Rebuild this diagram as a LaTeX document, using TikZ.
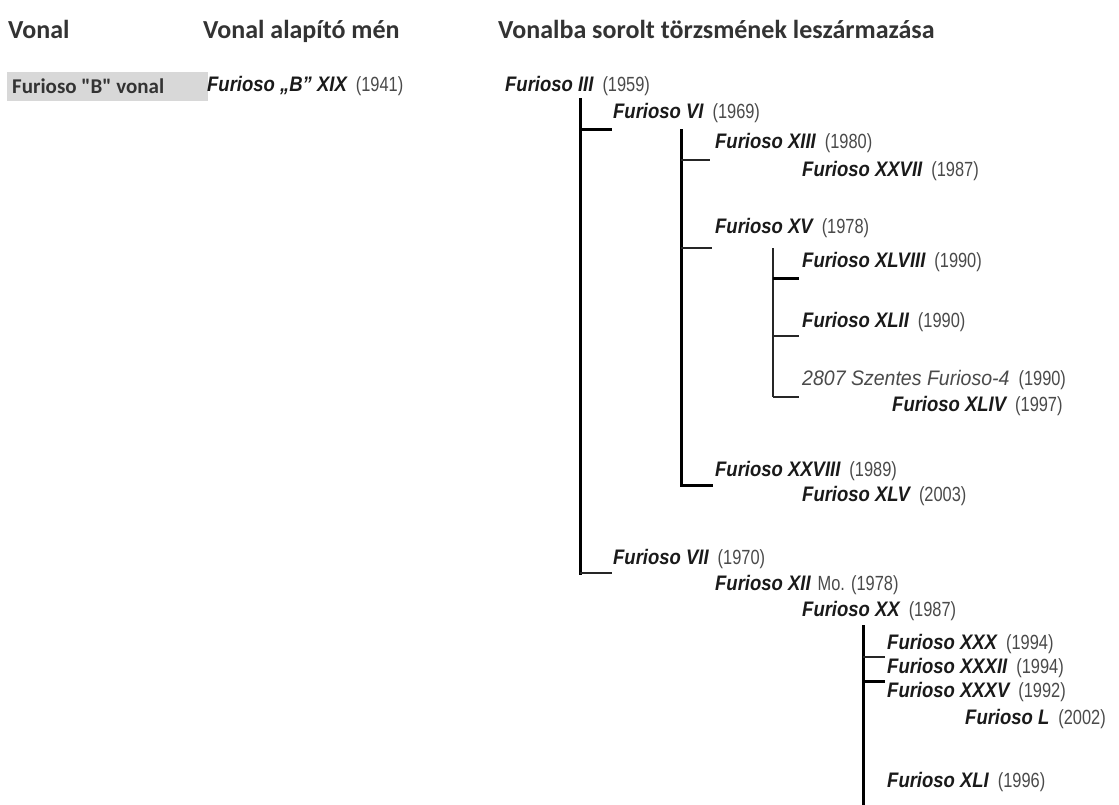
\documentclass[tikz,border=0pt]{standalone}
\usepackage{fontspec}
\setmainfont{Liberation Sans}[FakeStretch=0.88]
\newfontfamily\szfont{Liberation Sans}[FakeStretch=0.93]
\newfontfamily\yrfont{Liberation Sans}[FakeStretch=0.8]
\newfontfamily\carl{Carlito}
\definecolor{hdrc}{HTML}{333333}
\definecolor{namec}{HTML}{1A1A1A}
\definecolor{yearc}{HTML}{4A4A4A}
\definecolor{boxc}{HTML}{D8D8D8}
\newcommand\yr[1]{{\yrfont\color{yearc}\fontsize{20.5}{22}\selectfont #1}}
\newcommand\hn[2]{{\color{namec}\bfseries\itshape #1}\hspace{9pt}\yr{(#2)}}
\begin{document}
\begin{tikzpicture}[x=1pt,y=-1pt,
  hdr/.style={anchor=base west,inner sep=0pt,text=hdrc,font=\carl\bfseries\fontsize{26}{30}\selectfont},
  lbl/.style={anchor=base west,inner sep=0pt,text=hdrc,font=\carl\bfseries\fontsize{21}{24}\selectfont},
  hn/.style={anchor=west,inner sep=0pt,font=\fontsize{21}{23}\selectfont},
  thickl/.style={line width=3pt,color=black},
  thinl/.style={line width=1.4pt,color=black!85}]
\useasboundingbox (0,0) rectangle (1119,805);
\fill[white] (0,0) rectangle (1119,805);
% headers
\node[hdr] (h1) at (8,39) {Vonal};
\node[hdr] (h2) at (203,39) {Vonal alapító mén};
\node[hdr] (h3) at (498,39) {Vonalba sorolt törzsmének leszármazása};
% row
\fill[boxc] (7,72) rectangle (208,101);
\node[lbl] (vonal) at (12,94) {Furioso "B" vonal};
\node[hn] (fb) at (207,86) {\hn{Furioso „B” XIX}{1941}};
% tree texts
\node[hn] (n3) at (505,86) {\hn{Furioso III}{1959}};
\node[hn] (n6) at (613,113) {\hn{Furioso VI}{1969}};
\node[hn] (n13) at (715,143) {\hn{Furioso XIII}{1980}};
\node[hn] (n27) at (802,171) {\hn{Furioso XXVII}{1987}};
\node[hn] (n15) at (715,228) {\hn{Furioso XV}{1978}};
\node[hn] (n48) at (802,262) {\hn{Furioso XLVIII}{1990}};
\node[hn] (n42) at (802,322) {\hn{Furioso XLII}{1990}};
\node[hn] (sz) at (802,380) {{\szfont\color{yearc}\itshape 2807 Szentes Furioso-4}\hspace{9pt}\yr{(1990)}};
\node[hn] (n44) at (892,406) {\hn{Furioso XLIV}{1997}};
\node[hn] (n28) at (715,471) {\hn{Furioso XXVIII}{1989}};
\node[hn] (n45) at (802,496) {\hn{Furioso XLV}{2003}};
\node[hn] (n7) at (613,559) {\hn{Furioso VII}{1970}};
\node[hn] (n12) at (715,585) {{\color{namec}\bfseries\itshape Furioso XII}\hspace{7pt}\yr{Mo. (1978)}};
\node[hn] (n20) at (802,611) {\hn{Furioso XX}{1987}};
\node[hn] (n30) at (887,644) {\hn{Furioso XXX}{1994}};
\node[hn] (n32) at (887,668) {\hn{Furioso XXXII}{1994}};
\node[hn] (n35) at (887,692) {\hn{Furioso XXXV}{1992}};
\node[hn] (n50) at (965,719) {\hn{Furioso L}{2002}};
\node[hn] (n41) at (887,782) {\hn{Furioso XLI}{1996}};
% spine tops
\coordinate (s1) at (580,100);
\coordinate (s2) at (681,131);
\coordinate (s3) at (773,248);
\coordinate (s4) at (863,625);
\coordinate (s4e) at (863,805);
% branch ends
\coordinate (b6) at (612,130);
\coordinate (b7) at (612,573);
\coordinate (b13) at (710,160);
\coordinate (b15) at (712,248);
\coordinate (b28) at (711,485);
\coordinate (b48) at (799,278);
\coordinate (b42) at (799,336);
\coordinate (bsz) at (799,397);
\coordinate (b30) at (885,657);
\coordinate (b32) at (885,681);
% spines
\draw[thickl,line cap=rect] (s1) -- (s1 |- b7);
\draw[thickl,line cap=rect] (s2) -- (s2 |- b28) -- (b28);
\draw[thinl] (s3) -- (s3 |- bsz);
\draw[thickl] (s4) -- (s4e);
% branches
\draw[thickl] (s1 |- b6) -- (b6);
\draw[thinl] (s1 |- b7) -- (b7);
\draw[thinl] (s2 |- b13) -- (b13);
\draw[thinl] (s2 |- b15) -- (b15);
\draw[thickl] (s3 |- b48) -- (b48);
\draw[thinl] (s3 |- b42) -- (b42);
\draw[thinl] (s3 |- bsz) -- (bsz);
\draw[thinl] (s4 |- b30) -- (b30);
\draw[thickl] (s4 |- b32) -- (b32);
\end{tikzpicture}
\end{document}
